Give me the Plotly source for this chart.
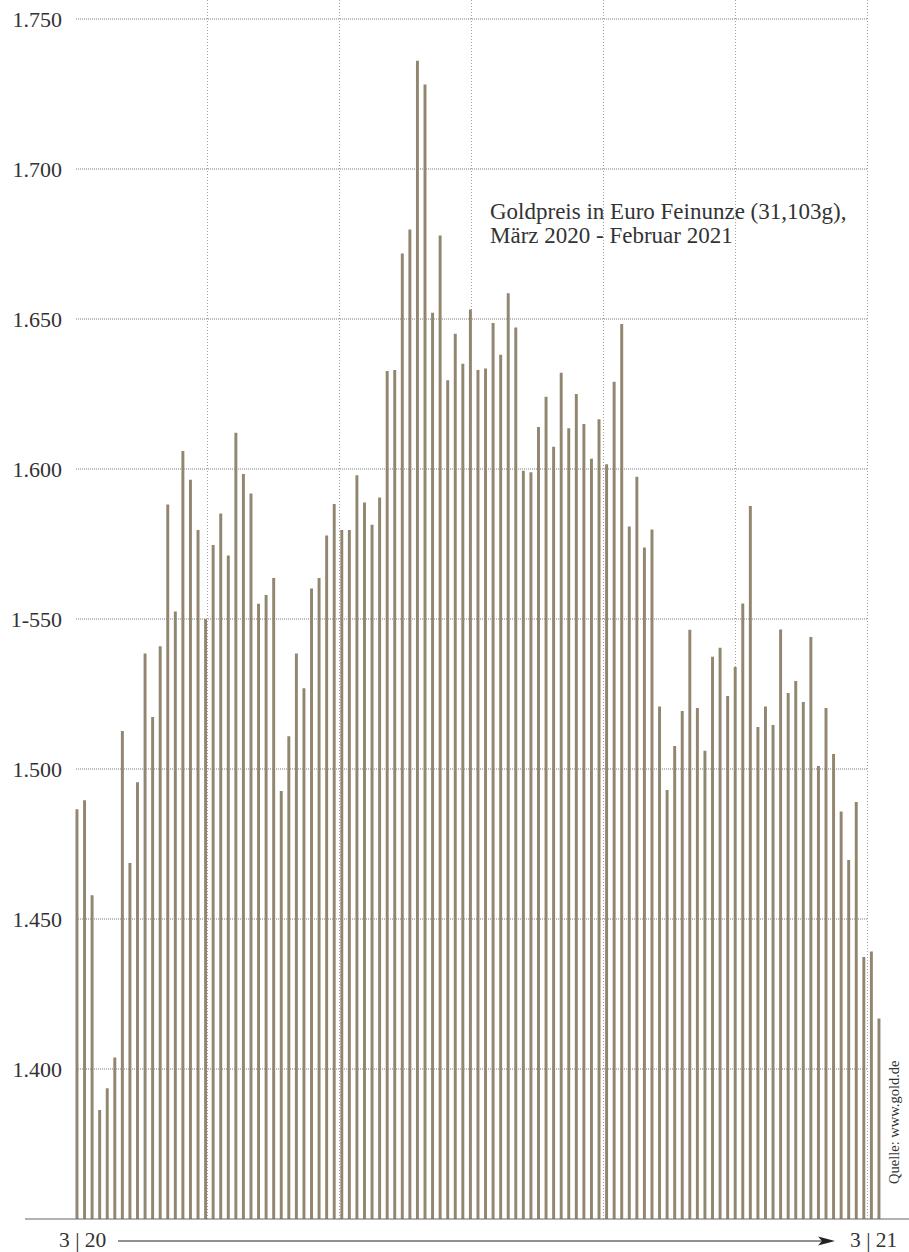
import plotly.graph_objects as go

# Goldpreis in Euro je Feinunze, März 2020 - Februar 2021
prices = [
    1486.6, 1489.6, 1457.9, 1386.3, 1393.6, 1403.8, 1512.7, 1468.7, 1495.6, 1538.5,
    1517.3, 1540.9, 1588.2, 1552.5, 1606.0, 1596.4, 1579.7, 1550.0, 1574.7, 1585.2,
    1571.2, 1612.1, 1598.3, 1591.8, 1555.1, 1558.0, 1563.7, 1492.7, 1510.9, 1538.5,
    1526.9, 1560.2, 1563.7, 1577.8, 1588.3, 1579.7, 1579.7, 1597.9, 1588.8, 1581.4,
    1590.5, 1632.7, 1633.0, 1671.8, 1679.8, 1736.1, 1728.2, 1652.1, 1677.8, 1629.6,
    1645.1, 1635.1, 1653.2, 1633.0, 1633.5, 1648.7, 1638.1, 1658.6, 1647.2, 1599.4,
    1598.9, 1614.0, 1624.1, 1607.4, 1632.1, 1613.6, 1625.0, 1615.0, 1603.4, 1616.6,
    1601.6, 1629.1, 1648.3, 1580.8, 1597.4, 1573.8, 1579.8, 1520.8, 1493.0, 1507.7,
    1519.3, 1546.4, 1520.3, 1506.1, 1537.4, 1540.4, 1524.3, 1534.0, 1555.2, 1587.7,
    1514.0, 1520.8, 1514.7, 1546.5, 1525.3, 1529.3, 1522.3, 1544.0, 1501.0, 1520.3,
    1505.0, 1485.8, 1469.7, 1489.0, 1437.3, 1439.2, 1416.8,
]
obs_index = list(range(len(prices)))

y_tick_vals = [1400, 1450, 1500, 1550, 1600, 1650, 1700, 1750]
y_tick_text = ["1.400", "1.450", "1.500", "1-550", "1.600", "1.650", "1.700", "1.750"]

title_lines = ["Goldpreis in Euro Feinunze (31,103g),", "März 2020 - Februar 2021"]
start_label = "3 | 20"
end_label = "3 | 21"
source_label = "Quelle: www.gold.de"

W, H = 909, 1252
ML, MR, MT, MB = 75, 0, 0, 33
PW = W - ML - MR
PH = H - MT - MB

BAR_COLOR = "#938670"
FONT = "Liberation Serif"
TXT = "#333333"
FS = 22

grid_step = 17.43
grid_start = -0.13
grid_end = grid_start + 6 * grid_step

fig = go.Figure()
fig.add_trace(go.Bar(
    x=obs_index, y=prices,
    marker=dict(color=BAR_COLOR, line=dict(width=0)),
    hoverinfo="y",
))

def px_x(p):
    return (p - ML) / PW

def px_y(p):
    return (MT + PH - p) / PH

shapes = []
# horizontal dotted grid lines
for v in y_tick_vals:
    shapes.append(dict(type="line", xref="x", yref="y", x0=grid_start, x1=grid_end,
                       y0=v, y1=v, line=dict(color="#7a7a7a", width=1, dash="1px,1px"),
                       layer="below"))
# baseline
shapes.append(dict(type="line", xref="paper", yref="paper", x0=px_x(25), x1=1.0,
                   y0=0, y1=0, line=dict(color="#666666", width=1)))
# time arrow
ay = 1241
shapes.append(dict(type="line", xref="paper", yref="paper", x0=px_x(118), x1=px_x(826),
                   y0=px_y(ay), y1=px_y(ay), line=dict(color="#222222", width=1)))
head = [(835, ay), (818, ay - 4.5), (822, ay), (818, ay + 4.5)]
path = "M " + " L ".join(f"{px_x(a):.5f},{px_y(b):.5f}" for a, b in head) + " Z"
shapes.append(dict(type="path", xref="paper", yref="paper", path=path,
                   fillcolor="#222222", line=dict(width=0)))

annotations = [
    dict(text=title_lines[0], xref="paper", yref="paper",
         x=px_x(488), y=px_y(221), xanchor="left", yanchor="bottom", align="left",
         yshift=-5, showarrow=False, font=dict(family=FONT, size=23, color=TXT)),
    dict(text=title_lines[1], xref="paper", yref="paper",
         x=px_x(488), y=px_y(245), xanchor="left", yanchor="bottom", align="left",
         yshift=-5, showarrow=False, font=dict(family=FONT, size=23, color=TXT)),
    dict(text=start_label, xref="paper", yref="paper", x=px_x(82), y=px_y(1240),
         xanchor="center", yanchor="middle", showarrow=False,
         font=dict(family=FONT, size=21.5, color=TXT)),
    dict(text=end_label, xref="paper", yref="paper", x=px_x(873), y=px_y(1240),
         xanchor="center", yanchor="middle", showarrow=False,
         font=dict(family=FONT, size=21.5, color=TXT)),
    dict(text=source_label, xref="paper", yref="paper", x=px_x(894), y=px_y(1122),
         xanchor="center", yanchor="middle", textangle=-90, showarrow=False,
         font=dict(family=FONT, size=14.5, color=TXT)),
]

fig.update_layout(
    width=W, height=H,
    margin=dict(l=ML, r=MR, t=MT, b=MB, pad=0),
    paper_bgcolor="white", plot_bgcolor="white",
    bargap=0.61,
    showlegend=False,
    shapes=shapes,
    annotations=annotations,
    font=dict(family=FONT, color=TXT),
    xaxis=dict(range=[-0.26, -0.26 + PW / 7.566], showticklabels=False, ticks="",
               showgrid=True, gridcolor="#a0a0a0", griddash="1px,2px", gridwidth=1,
               tick0=grid_start, dtick=grid_step, zeroline=False, showline=False,
               fixedrange=True),
    yaxis=dict(range=[1350, 1350 + PH / 3.0], tickvals=y_tick_vals, ticktext=y_tick_text,
               showgrid=False, zeroline=False, showline=False, ticks="",
               ticklabelstandoff=12, tickfont=dict(family=FONT, size=FS, color=TXT),
               fixedrange=True),
)

fig.write_html("out.html", config={"displayModeBar": False},
               post_script="document.body.style.margin='0';")
